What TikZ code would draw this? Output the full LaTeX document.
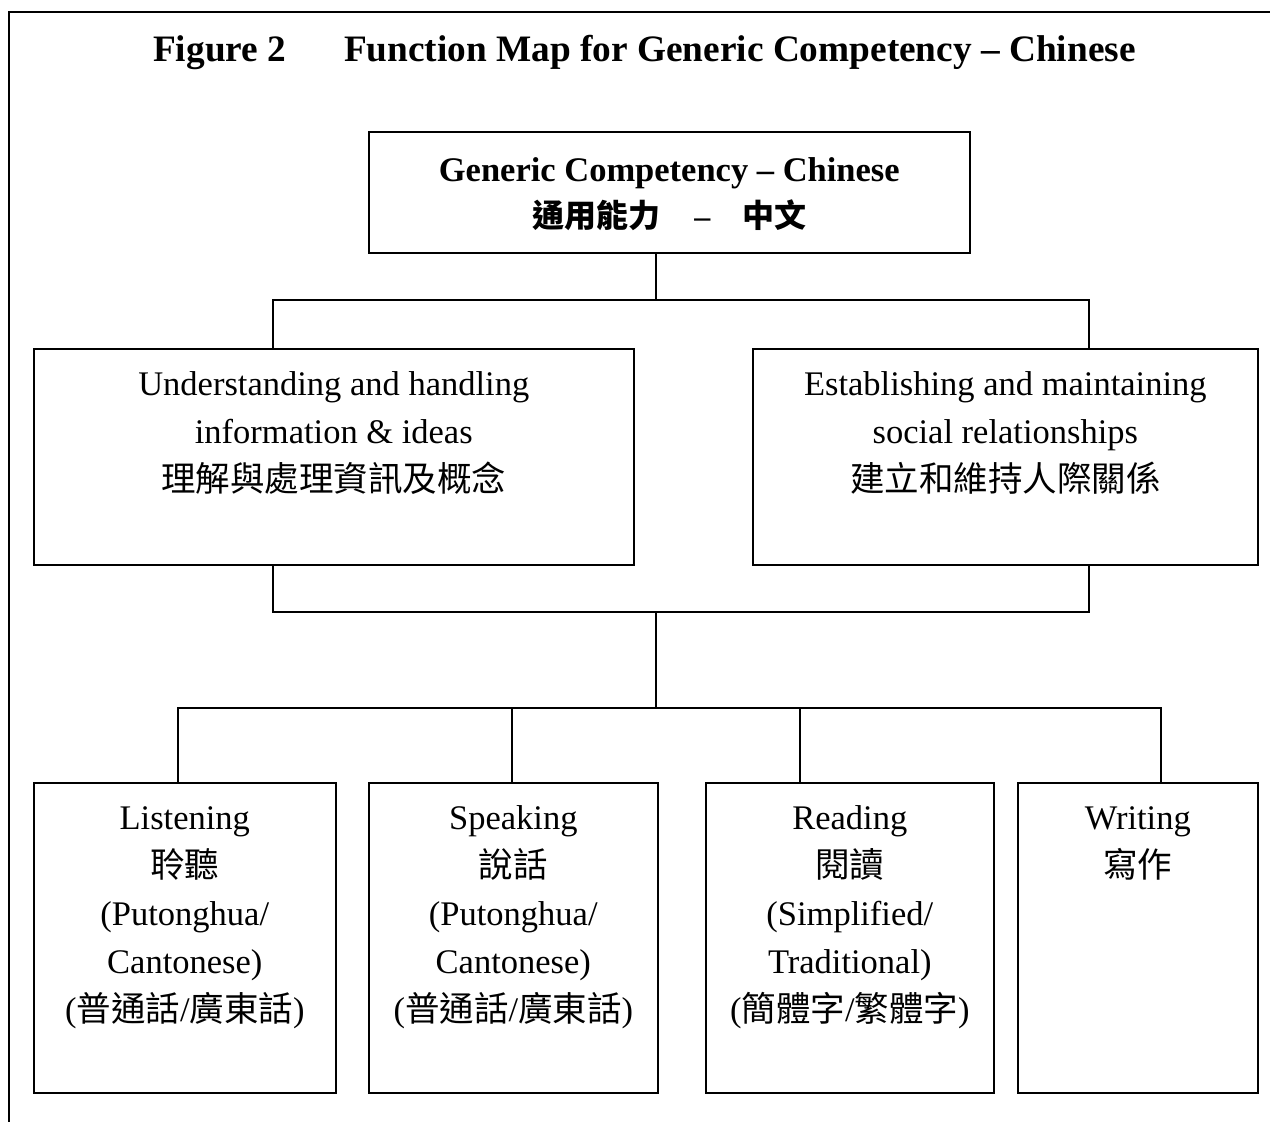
\documentclass[tikz,border=0pt]{standalone}
\usepackage{fontspec}
\setmainfont{Liberation Serif}
\newfontfamily\cjk{Noto Sans CJK TC}
\newcommand\bxt[4]{\begin{minipage}[t][#2][t]{#1}\centering\vspace*{#3}#4\end{minipage}}
\newcommand\Lne[1]{\strut#1\par}
\newcommand\zh[1]{{\cjk #1}}
\tikzset{
  boxnode/.style={draw, line width=1.6pt, inner sep=0pt, anchor=north west,
    font=\fontsize{34.5}{48}\selectfont},
  conn/.style={line width=1.5pt},
  framestyle/.style={line width=2pt}
}
\begin{document}
\begin{tikzpicture}[x=1pt,y=-1pt]
\useasboundingbox (0,0) rectangle (1270,1122);
\coordinate (fTR) at (1270,12);
\coordinate (fTL) at (9,12);
\coordinate (fBL) at (9,1122);
\draw[framestyle] (fTR) -- (fTL) -- (fBL);

\node[anchor=base west, inner sep=0pt, font=\bfseries\fontsize{37.3}{44}\selectfont] (title) at (153,61)
  {Figure 2\hspace{58pt}Function Map for Generic Competency -- Chinese};

\node[boxnode, font=\fontsize{34.5}{46}\selectfont] (top) at (368,131)
  {\bxt{601pt}{121pt}{17.8pt}{%
    \Lne{\textbf{Generic Competency -- Chinese}}%
    \Lne{{\fontsize{32}{46}\selectfont{\cjk\bfseries 通用能力}\hspace{34pt}\textbf{--}\hspace{32pt}{\cjk\bfseries 中文}}}}};

\node[boxnode] (und) at (33,348)
  {\bxt{600pt}{216pt}{13.4pt}{%
    \Lne{Understanding and handling}%
    \Lne{information \& ideas}%
    \Lne{\zh{理解與處理資訊及概念}}}};
\node[boxnode] (est) at (752,348)
  {\bxt{505pt}{216pt}{13.4pt}{%
    \Lne{Establishing and maintaining}%
    \Lne{social relationships}%
    \Lne{\zh{建立和維持人際關係}}}};

\node[boxnode] (lis) at (33,782)
  {\bxt{302pt}{310pt}{13.4pt}{%
    \Lne{Listening}%
    \Lne{\zh{聆聽}}%
    \Lne{(Putonghua/}%
    \Lne{Cantonese)}%
    \Lne{(\zh{普通話}/\zh{廣東話})}}};
\node[boxnode] (spk) at (368,782)
  {\bxt{289pt}{310pt}{13.4pt}{%
    \Lne{Speaking}%
    \Lne{\zh{說話}}%
    \Lne{(Putonghua/}%
    \Lne{Cantonese)}%
    \Lne{(\zh{普通話}/\zh{廣東話})}}};
\node[boxnode] (rea) at (705,782)
  {\bxt{288pt}{310pt}{13.4pt}{%
    \Lne{Reading}%
    \Lne{\zh{閱讀}}%
    \Lne{(Simplified/}%
    \Lne{Traditional)}%
    \Lne{(\zh{簡體字}/\zh{繁體字})}}};
\node[boxnode] (wri) at (1017,782)
  {\bxt{240pt}{310pt}{13.4pt}{%
    \Lne{Writing}%
    \Lne{\zh{寫作}}}};

% connectors
\coordinate (a) at (656,300);
\coordinate (aL) at (273,300);
\coordinate (aR) at (1089,300);
\draw[conn] (a |- top.south) -- (a);
\draw[conn] (aL |- und.north) -- (aL) -- (aR) -- (aR |- est.north);

\coordinate (b) at (656,612);
\coordinate (bL) at (273,612);
\coordinate (bR) at (1089,612);
\draw[conn] (bL |- und.south) -- (bL) -- (bR) -- (bR |- est.south);

\coordinate (c) at (656,708);
\draw[conn] (b) -- (c);
\coordinate (c1) at (178,708);
\coordinate (c2) at (512,708);
\coordinate (c3) at (800,708);
\coordinate (c4) at (1161,708);
\draw[conn] (c1 |- lis.north) -- (c1) -- (c4) -- (c4 |- wri.north);
\draw[conn] (c2) -- (c2 |- spk.north);
\draw[conn] (c3) -- (c3 |- rea.north);
\end{tikzpicture}
\end{document}
